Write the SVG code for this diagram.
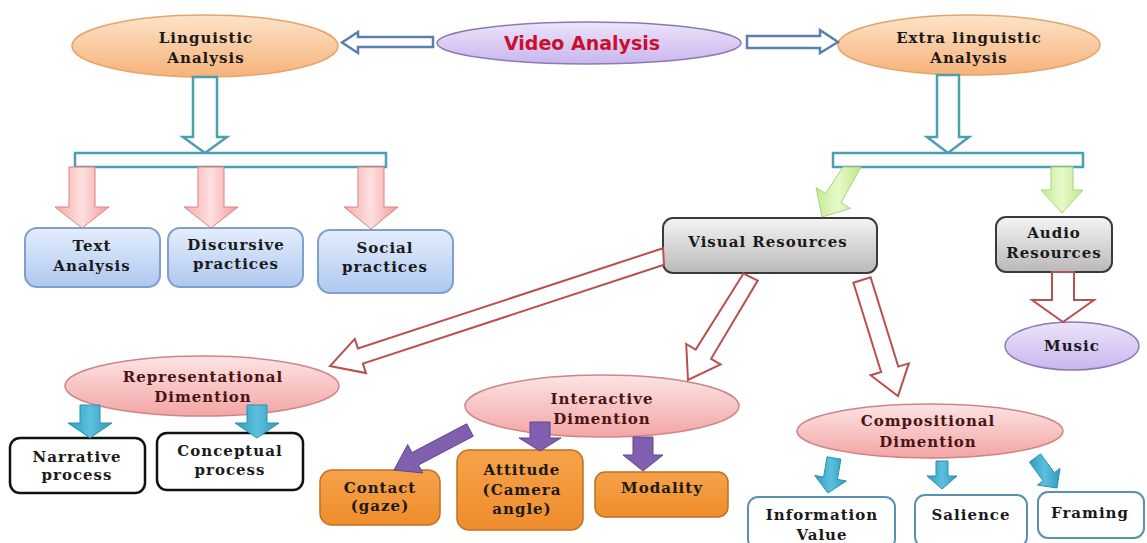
<svg xmlns="http://www.w3.org/2000/svg" width="1147" height="543" viewBox="0 0 1147 543">
<defs>
<linearGradient id="gPeach" x1="0" y1="0" x2="0" y2="1"><stop offset="0" stop-color="#fde3c8"/><stop offset="1" stop-color="#f6b27a"/></linearGradient>
<linearGradient id="gLav" x1="0" y1="0" x2="0" y2="1"><stop offset="0" stop-color="#ece4fa"/><stop offset="1" stop-color="#c9b6ee"/></linearGradient>
<linearGradient id="gBlue" x1="0" y1="0" x2="0" y2="1"><stop offset="0" stop-color="#e4eefc"/><stop offset="1" stop-color="#aec8f0"/></linearGradient>
<linearGradient id="gGrey" x1="0" y1="0" x2="0" y2="1"><stop offset="0" stop-color="#f4f4f4"/><stop offset="1" stop-color="#b9b9b9"/></linearGradient>
<linearGradient id="gPink" x1="0" y1="0" x2="0" y2="1"><stop offset="0" stop-color="#fde4e4"/><stop offset="1" stop-color="#f3a5a5"/></linearGradient>
<linearGradient id="gRedArrow" x1="0" y1="0" x2="1" y2="0"><stop offset="0" stop-color="#f6a9a9"/><stop offset="0.5" stop-color="#fde0e0"/><stop offset="1" stop-color="#f29a9a"/></linearGradient>
<linearGradient id="gGreen" x1="0" y1="0" x2="1" y2="0"><stop offset="0" stop-color="#c6ec96"/><stop offset="0.5" stop-color="#e6f9c8"/><stop offset="1" stop-color="#bfe78c"/></linearGradient>
<linearGradient id="gTeal" x1="0" y1="0" x2="1" y2="0"><stop offset="0" stop-color="#2f9cc0"/><stop offset="0.5" stop-color="#5cc0dc"/><stop offset="1" stop-color="#2f9cc0"/></linearGradient>
<linearGradient id="gOrange" x1="0" y1="0" x2="0" y2="1"><stop offset="0" stop-color="#f6a24a"/><stop offset="1" stop-color="#ef8d2c"/></linearGradient>
</defs>
<style>
text{font-family:"DejaVu Serif","Liberation Serif",serif;font-weight:bold;font-size:15px;letter-spacing:1px;fill:#1a1a1a;text-anchor:middle}
.red{fill:#4a1414}
.title{font-family:"DejaVu Sans","Liberation Sans",sans-serif;font-size:19px;letter-spacing:0;fill:#c8102e}
.hollowT{fill:#ffffff;stroke:#4a9fb0;stroke-width:2.5}
.hollowB{fill:#ffffff;stroke:#5a7fb2;stroke-width:2.5}
.hollowR{fill:#ffffff;stroke:#b9504f;stroke-width:2}
.pinkA{fill:url(#gRedArrow);stroke:#dd8080;stroke-width:1}
.greenA{fill:url(#gGreen);stroke:#a9d27a;stroke-width:1}
.tealA{fill:url(#gTeal);stroke:#2a8fb0;stroke-width:1}
.purpA{fill:#7f5fae;stroke:#5f4590;stroke-width:1}
.peach{fill:url(#gPeach);stroke:#e4a46a;stroke-width:1.5}
.lav{fill:url(#gLav);stroke:#8b7bb0;stroke-width:1.5}
.blueBox{fill:url(#gBlue);stroke:#7f9fcc;stroke-width:2}
.greyBox{fill:url(#gGrey);stroke:#3a3a3a;stroke-width:2}
.pink{fill:url(#gPink);stroke:#d08585;stroke-width:1.5}
.blackBox{fill:#ffffff;stroke:#111111;stroke-width:2.5}
.orange{fill:url(#gOrange);stroke:#c07020;stroke-width:1.5}
.tealBox{fill:#ffffff;stroke:#5a90b0;stroke-width:2}
</style>

<g id="video-analysis">
<ellipse class="lav" cx="589" cy="43" rx="152" ry="21"/>
<text class="title" x="582" y="50">Video Analysis</text>
</g>
<g id="linguistic-analysis">
<ellipse class="peach" cx="205" cy="46" rx="133" ry="31"/>
<text x="206" y="43">Linguistic</text>
<text x="206" y="63">Analysis</text>
</g>
<g id="extra-linguistic-analysis">
<ellipse class="peach" cx="969" cy="45" rx="131" ry="30"/>
<text x="969" y="43">Extra linguistic</text>
<text x="969" y="63">Analysis</text>
</g>
<g id="text-analysis">
<rect class="blueBox" x="25" y="228" width="135" height="59" rx="12"/>
<text x="92" y="251">Text</text>
<text x="92" y="271">Analysis</text>
</g>
<g id="discursive-practices">
<rect class="blueBox" x="168" y="228" width="135" height="59" rx="12"/>
<text x="236" y="250">Discursive</text>
<text x="236" y="269">practices</text>
</g>
<g id="social-practices">
<rect class="blueBox" x="318" y="230" width="135" height="63" rx="12"/>
<text x="385" y="253">Social</text>
<text x="385" y="272">practices</text>
</g>
<g id="visual-resources">
<rect class="greyBox" x="663" y="218" width="214" height="55" rx="10"/>
<text x="768" y="247">Visual Resources</text>
</g>
<g id="audio-resources">
<rect class="greyBox" x="996" y="217" width="116" height="55" rx="10"/>
<text x="1054" y="238">Audio</text>
<text x="1054" y="258">Resources</text>
</g>
<g id="music">
<ellipse class="lav" cx="1072" cy="346" rx="67" ry="24"/>
<text x="1072" y="351">Music</text>
</g>
<g id="representational-dimention">
<ellipse class="pink" cx="202" cy="386" rx="137" ry="30"/>
<text class="red" x="203" y="382">Representational</text>
<text class="red" x="203" y="402">Dimention</text>
</g>
<g id="narrative-process">
<rect class="blackBox" x="10" y="438" width="135" height="55" rx="10"/>
<text x="77" y="462">Narrative</text>
<text x="77" y="480">process</text>
</g>
<g id="conceptual-process">
<rect class="blackBox" x="157" y="433" width="146" height="57" rx="10"/>
<text x="230" y="456">Conceptual</text>
<text x="230" y="475">process</text>
</g>
<g id="interactive-dimention">
<ellipse class="pink" cx="602" cy="406" rx="137" ry="31"/>
<text class="red" x="602" y="404">Interactive</text>
<text class="red" x="602" y="424">Dimention</text>
</g>
<g id="contact">
<rect class="orange" x="320" y="470" width="120" height="55" rx="12"/>
<text x="380" y="493">Contact</text>
<text x="380" y="511">(gaze)</text>
</g>
<g id="attitude">
<rect class="orange" x="457" y="450" width="126" height="80" rx="12"/>
<text x="522" y="475">Attitude</text>
<text x="522" y="495">(Camera</text>
<text x="522" y="514">angle)</text>
</g>
<g id="modality">
<rect class="orange" x="595" y="472" width="133" height="45" rx="10"/>
<text x="662" y="493">Modality</text>
</g>
<g id="compositional-dimention">
<ellipse class="pink" cx="930" cy="431" rx="133" ry="27"/>
<text class="red" x="928" y="426">Compositional</text>
<text class="red" x="928" y="447">Dimention</text>
</g>
<g id="information-value">
<rect class="tealBox" x="748" y="497" width="147" height="52" rx="10"/>
<text x="822" y="520">Information</text>
<text x="822" y="540">Value</text>
</g>
<g id="salience">
<rect class="tealBox" x="915" y="495" width="112" height="52" rx="10"/>
<text x="971" y="520">Salience</text>
</g>
<g id="framing">
<rect class="tealBox" x="1038" y="492" width="106" height="46" rx="10"/>
<text x="1090" y="518">Framing</text>
</g>

<g id="connectors">
<polygon class="hollowB" points="433,37 358,37 358,32 342,42.5 358,53 358,47 433,47"/>
<polygon class="hollowB" points="747,36 820,36 820,30 838,42 820,53 820,48 747,48"/>
<polygon class="hollowT" points="193,77 193,137 183,137 205,153 227,137 217,137 217,77"/>
<rect class="hollowT" x="75" y="153" width="311" height="14"/>
<polygon class="hollowT" points="937,75 937,137 927,137 948,153 969,137 959,137 959,75"/>
<rect class="hollowT" x="833" y="153" width="250" height="14"/>
<polygon class="pinkA" points="69,167 69,207 55,207 82,228 109,207 95,207 95,167"/>
<polygon class="pinkA" points="198,167 198,207 184,207 211,228 238,207 224,207 224,167"/>
<polygon class="pinkA" points="358,167 358,207 344,207 371,229 398,207 384,207 384,167"/>
<polygon class="greenA" points="843,167 825.6,193.5 816.2,187.8 822,217 850.4,208.4 841,202.7 861,167"/>
<polygon class="greenA" points="1051,167 1051,190 1041,190 1062,213 1083,190 1073,190 1073,167"/>
<polygon class="hollowR" points="663,248.2 357.9,348.4 354.8,338.9 330,366 366,373.1 362.9,363.6 664,264.8"/>
<polygon class="hollowR" points="743.5,273.5 695.7,349.6 686.2,344 688,380 720.6,364.4 711.1,358.8 757.7,280.6"/>
<polygon class="hollowR" points="853.4,282.7 881.1,372 870.6,375.2 898,396 908.8,363.4 898.3,366.6 870.6,277.3"/>
<polygon class="hollowR" points="1052,272 1052,300 1032,300 1063,322 1094,300 1074,300 1074,272"/>
<polygon class="tealA" points="80,405 80,423 68,423 90,438 112,423 100,423 100,405"/>
<polygon class="tealA" points="247,405 247,423 235,423 257,438 279,423 267,423 267,405"/>
<polygon class="purpA" points="466.7,423.8 411.9,452.6 407.7,444.6 394,470 422.7,473 418.5,465 473.3,436.2"/>
<polygon class="purpA" points="530,422 530,438 519,438 540,451 561,438 550,438 550,422"/>
<polygon class="purpA" points="633,437 633,455 623,455 643,471 663,455 653,455 653,437"/>
<polygon class="tealA" points="827.1,456.8 823.6,477 814.7,475.5 828,493 846.3,480.9 837.4,479.4 840.9,459.2"/>
<polygon class="tealA" points="936,461 936,476 927,476 942,489 957,476 948,476 948,461"/>
<polygon class="tealA" points="1029.4,462.1 1043.1,480.8 1037.4,485 1057,488 1060,468.4 1054.3,472.6 1040.6,453.9"/>
</g>
</svg>
